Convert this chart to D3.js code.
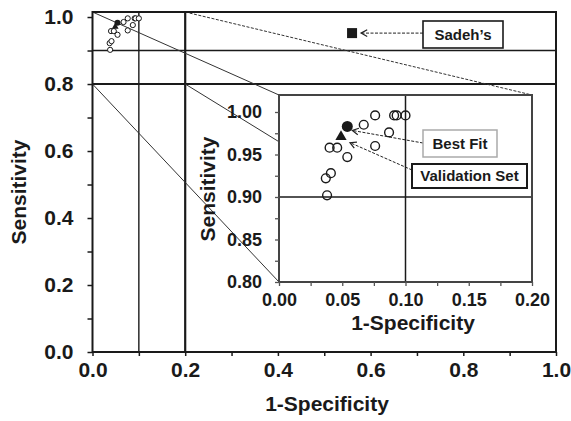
<!DOCTYPE html>
<html><head><meta charset="utf-8">
<script src="https://cdn.jsdelivr.net/npm/d3@7"></script>
<style>
html,body{margin:0;padding:0;background:#fff;}
svg text{font-family:"Liberation Sans",Arial,sans-serif;font-weight:bold;fill:#1a1a1a;}
</style></head><body>
<svg id="c" width="571" height="421"></svg>
<script>
// ---- data ----
const fpr  = [0.038,0.037,0.041,0.040,0.046,0.054,0.067,0.076,0.087,0.076,0.091,0.093,0.100];
const sens = [0.902,0.922,0.928,0.958,0.958,0.947,0.985,0.996,0.976,0.960,0.996,0.996,0.996];
const bestFit = {fpr:0.054, sens:0.983, label:"Best Fit"};
const validation = {fpr:0.049, sens:0.971, label:"Validation Set"};
const sadeh = {fpr:0.56, sens:0.952, label:"Sadeh\u2019s"};
const mainTicks = [0,0.1,0.2,0.3,0.4,0.5,0.6,0.7,0.8,0.9,1.0];
const mainLabels = [0,0.2,0.4,0.6,0.8,1.0];
const insetXTicks = [0,0.025,0.05,0.075,0.1,0.125,0.15,0.175,0.2];
const insetYTicks = [0.8,0.825,0.85,0.875,0.9,0.925,0.95,0.975,1.0];
const insetXLabels = [0,0.05,0.1,0.15,0.2];
const insetYLabels = [0.8,0.85,0.9,0.95,1.0];
const mainRefX = [0.1,0.2], mainRefY = [0.9,0.8];
const insetRefX = [0.1], insetRefY = [0.9];
const xLabel = "1-Specificity", yLabel = "Sensitivity";

const svg = d3.select("#c");
const ink = "#1a1a1a";

// main scales
const x = d3.scaleLinear().domain([0,1]).range([92.5,556]);
const y = d3.scaleLinear().domain([0,1.015]).range([352,12]);
// inset scales
const ix = d3.scaleLinear().domain([0,0.2]).range([279,532]);
const iy = d3.scaleLinear().domain([0.8,1.02]).range([282,95]);

const g = svg.append("g");
mainRefY.forEach((v,i)=>g.append("line").attr("x1",x(0)).attr("x2",x(1)).attr("y1",y(v)).attr("y2",y(v))
  .attr("stroke",ink).attr("stroke-width",i===1?2.2:1.4));
mainRefX.forEach((v,i)=>g.append("line").attr("x1",x(v)).attr("x2",x(v)).attr("y1",y(0)).attr("y2",y(1.015))
  .attr("stroke",ink).attr("stroke-width",i===1?2.2:1.4));

// connector lines
const conn = [
  [[0,1.015],[0,1.02],false],
  [[0.2,1.015],[0.2,1.02],true],
  [[0.2,0.8],[0,0.965],false],
  [[0,0.8],[0,0.8],false]
];
conn.forEach(c=>g.append("line").attr("x1",x(c[0][0])).attr("y1",y(c[0][1]))
  .attr("x2",ix(c[1][0])).attr("y2",iy(c[1][1])).attr("stroke","#333").attr("stroke-width",1)
  .attr("stroke-dasharray",c[2]?"3,1.5":null));

g.append("rect").attr("x",x(0)).attr("y",y(1.015)).attr("width",x(1)-x(0)).attr("height",y(0)-y(1.015))
  .attr("fill","none").attr("stroke",ink).attr("stroke-width",2);

const xa = svg.append("g").attr("transform",`translate(0,${y(0)})`)
  .call(d3.axisBottom(x).tickValues(mainTicks).tickSize(4).tickPadding(6)
    .tickFormat(d=>mainLabels.some(v=>Math.abs(v-d)<1e-9)?d3.format(".1f")(d):""));
const ya = svg.append("g").attr("transform",`translate(${x(0)},0)`)
  .call(d3.axisLeft(y).tickValues(mainTicks).tickSize(5).tickPadding(14)
    .tickFormat(d=>mainLabels.some(v=>Math.abs(v-d)<1e-9)?d3.format(".1f")(d):""));
[xa,ya].forEach(a=>{a.select(".domain").remove();a.selectAll("line").attr("stroke",ink).attr("stroke-width",1.5);
  a.selectAll("text").attr("font-size",21).style("fill",ink);});

svg.append("text").attr("x",327).attr("y",411).attr("text-anchor","middle").attr("font-size",21).text(xLabel);
svg.append("text").attr("transform","translate(26,192) rotate(-90)").attr("text-anchor","middle").attr("font-size",21).text(yLabel);

svg.append("g").selectAll("circle").data(fpr).join("circle")
  .attr("cx",(d)=>x(d)).attr("cy",(d,i)=>y(sens[i])).attr("r",2.6)
  .attr("fill","#fff").attr("stroke",ink).attr("stroke-width",1);
svg.append("circle").attr("cx",x(bestFit.fpr)).attr("cy",y(bestFit.sens)).attr("r",3).attr("fill",ink);
svg.append("path").attr("d",d3.symbol(d3.symbolTriangle,20)()).attr("transform",`translate(${x(validation.fpr)},${y(validation.sens)})`).attr("fill",ink);

svg.append("rect").attr("x",x(sadeh.fpr)-5).attr("y",y(sadeh.sens)-5).attr("width",10).attr("height",10).attr("fill",ink);

function arrow(x1,y1,x2,y2,dash){
  svg.append("line").attr("x1",x1).attr("y1",y1).attr("x2",x2).attr("y2",y2)
    .attr("stroke","#222").attr("stroke-width",1).attr("stroke-dasharray",dash?"3,1.5":null);
  const a=Math.atan2(y2-y1,x2-x1), L=7, w=0.5;
  const p=[[x2-L*Math.cos(a-w),y2-L*Math.sin(a-w)],[x2,y2],[x2-L*Math.cos(a+w),y2-L*Math.sin(a+w)]];
  svg.append("path").attr("d",d3.line()(p)).attr("fill","none").attr("stroke","#222").attr("stroke-width",1.2);
}
function labelBox(bx,by,w,h,text,stroke,sw){
  svg.append("rect").attr("x",bx).attr("y",by).attr("width",w).attr("height",h).attr("fill","#fff")
    .attr("stroke",stroke).attr("stroke-width",sw);
  svg.append("text").attr("x",bx+w/2).attr("y",by+h/2).attr("dy","0.36em").attr("text-anchor","middle")
    .attr("font-size",15).text(text);
}
arrow(423,y(sadeh.sens),x(sadeh.fpr)+9,y(sadeh.sens),true);
labelBox(423,21,80,27,sadeh.label,ink,1.6);

// ---- inset ----
const ig = svg.append("g");
ig.append("rect").attr("x",ix(0)).attr("y",iy(1.02)).attr("width",ix(0.2)-ix(0)).attr("height",iy(0.8)-iy(1.02))
  .attr("fill","#fff");
insetRefX.forEach(v=>ig.append("line").attr("x1",ix(v)).attr("x2",ix(v)).attr("y1",iy(0.8)).attr("y2",iy(1.02)).attr("stroke",ink).attr("stroke-width",1.5));
insetRefY.forEach(v=>ig.append("line").attr("x1",ix(0)).attr("x2",ix(0.2)).attr("y1",iy(v)).attr("y2",iy(v)).attr("stroke",ink).attr("stroke-width",1.5));
ig.append("rect").attr("x",ix(0)).attr("y",iy(1.02)).attr("width",ix(0.2)-ix(0)).attr("height",iy(0.8)-iy(1.02))
  .attr("fill","none").attr("stroke","#444").attr("stroke-width",2);

const ixa = svg.append("g").attr("transform",`translate(0,${iy(0.8)})`)
  .call(d3.axisBottom(ix).tickValues(insetXTicks).tickSize(4).tickPadding(7)
    .tickFormat(d=>insetXLabels.some(v=>Math.abs(v-d)<1e-9)?d3.format(".2f")(d):""));
const iya = svg.append("g").attr("transform",`translate(${ix(0)},0)`)
  .call(d3.axisLeft(iy).tickValues(insetYTicks).tickSize(4).tickPadding(13)
    .tickFormat(d=>insetYLabels.some(v=>Math.abs(v-d)<1e-9)?d3.format(".2f")(d):""));
[ixa,iya].forEach(a=>{a.select(".domain").remove();a.selectAll("line").attr("stroke","#555").attr("stroke-width",1.3);
  a.selectAll("text").attr("font-size",18).style("fill",ink);});
svg.append("text").attr("x",413).attr("y",330).attr("text-anchor","middle").attr("font-size",21).text(xLabel);
svg.append("text").attr("transform","translate(215,189) rotate(-90)").attr("text-anchor","middle").attr("font-size",21).text(yLabel);

svg.append("g").selectAll("circle").data(fpr).join("circle")
  .attr("cx",d=>ix(d)).attr("cy",(d,i)=>iy(sens[i])).attr("r",4.4)
  .attr("fill","none").attr("stroke",ink).attr("stroke-width",1.4);
svg.append("circle").attr("cx",ix(bestFit.fpr)).attr("cy",iy(bestFit.sens)).attr("r",5.5).attr("fill",ink);
svg.append("path").attr("d",d3.symbol(d3.symbolTriangle,55)()).attr("transform",`translate(${ix(validation.fpr)},${iy(validation.sens)})`).attr("fill",ink);

arrow(423,143,ix(bestFit.fpr)+5,iy(bestFit.sens)+4,true);
arrow(412,170,ix(validation.fpr)+9,iy(validation.sens)+6,true);
labelBox(423,130,74,27,bestFit.label,"#aaa",1.5);
labelBox(412,164,115,24,validation.label,ink,2);
</script></body></html>
